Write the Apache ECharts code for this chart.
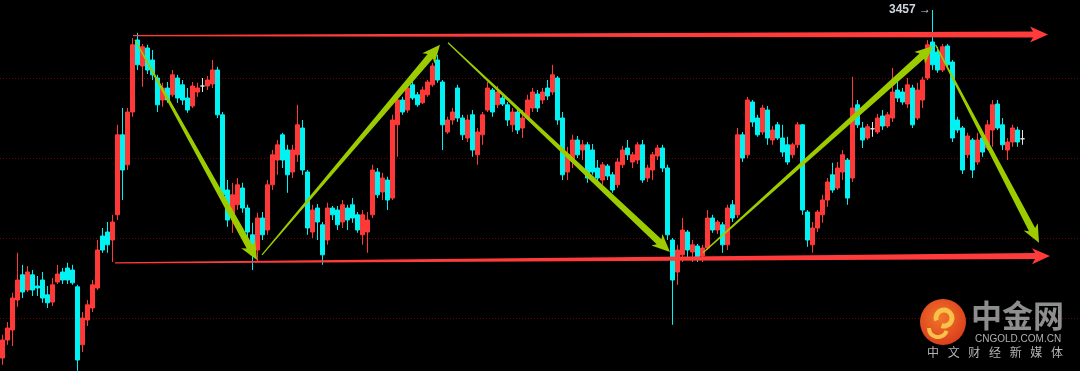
<!DOCTYPE html>
<html><head><meta charset="utf-8">
<script src="https://cdn.jsdelivr.net/npm/echarts@6/dist/echarts.min.js"></script>
<style>html,body{margin:0;padding:0;background:#000;}#c{width:1080px;height:371px;}</style>
</head><body><div id="c"></div>
<script>
// ---- candle data (price) ----
const opens = [
3370.0,3374.5,3377.0,3384.5,3390.8,3387.0,3390.8,3388.0,3389.5,3385.8,
3384.0,3389.0,3391.5,3392.5,3392.0,3387.8,3373.3,3379.5,3382.5,3387.5,
3400.5,3401.5,3399.5,3405.8,3425.8,3418.3,3431.5,3449.5,3443.0,3447.5,
3444.5,3440.0,3434.5,3437.5,3435.8,3440.0,3438.3,3435.0,3433.0,3436.5,
3438.0,3438.0,3438.5,3442.0,3430.8,3412.0,3405.8,3408.3,3412.5,3407.5,
3400.8,3397.0,3405.0,3402.0,3413.3,3419.5,3425.8,3422.0,3416.5,3420.8,
3427.5,3416.5,3401.5,3407.5,3403.3,3399.5,3407.5,3407.0,3404.0,3407.5,
3408.3,3405.8,3400.8,3401.5,3405.8,3416.5,3411.5,3414.5,3410.0,3428.3,
3434.5,3432.0,3438.3,3435.8,3433.8,3435.8,3438.3,3444.5,3439.0,3426.5,
3429.5,3437.5,3430.0,3425.0,3430.8,3420.8,3425.8,3432.0,3437.0,3433.3,
3435.0,3433.3,3428.3,3431.5,3427.5,3430.0,3432.5,3436.0,3434.5,3437.5,
3436.5,3440.0,3430.0,3416.5,3419.5,3424.5,3422.0,3423.3,3422.0,3417.5,
3414.5,3418.0,3415.8,3413.3,3418.3,3422.5,3419.0,3419.5,3423.3,3415.0,
3417.0,3420.5,3422.5,3417.5,3399.5,3391.5,3395.8,3401.5,3396.5,3398.0,
3395.5,3397.5,3405.0,3402.0,3403.3,3398.3,3408.3,3405.8,3425.8,3420.8,
3434.0,3430.0,3426.5,3432.0,3424.5,3428.3,3425.0,3423.3,3420.8,3423.3,
3428.3,3406.5,3398.3,3402.5,3405.8,3409.5,3415.8,3412.5,3416.5,3419.5,
3415.0,3433.3,3427.5,3425.0,3427.3,3426.5,3430.5,3428.0,3430.0,3437.0,
3436.5,3433.5,3437.5,3430.0,3434.5,3440.0,3449.0,3446.5,3442.0,3448.0,
3444.0,3429.5,3427.5,3420.8,3424.5,3419.0,3425.0,3422.5,3427.0,3433.5,
3428.3,3422.0,3424.0,3427.0,3424.8
];
const closes = [
3374.5,3377.5,3385.0,3389.5,3386.5,3391.5,3387.0,3387.5,3385.0,3383.8,
3388.3,3391.0,3389.5,3389.5,3388.8,3369.5,3380.0,3383.3,3388.3,3397.0,
3397.0,3398.3,3404.0,3425.8,3417.0,3431.5,3448.3,3443.3,3447.8,3442.0,
3440.8,3433.3,3437.5,3434.5,3440.8,3435.0,3434.5,3432.0,3438.0,3437.5,
3438.0,3439.5,3442.0,3430.8,3410.8,3404.5,3410.8,3413.3,3407.5,3401.5,
3395.8,3405.0,3400.8,3413.3,3420.8,3423.3,3419.5,3415.8,3422.0,3428.3,
3417.0,3402.5,3407.0,3404.0,3395.8,3407.5,3405.8,3403.3,3408.3,3404.5,
3405.0,3402.0,3405.8,3404.5,3417.0,3410.8,3415.0,3409.5,3429.5,3434.5,
3431.5,3437.5,3435.0,3433.3,3437.0,3439.0,3443.0,3439.5,3428.3,3429.5,
3431.5,3430.0,3425.8,3429.5,3422.0,3426.5,3430.8,3437.5,3431.5,3436.5,
3433.5,3429.5,3431.5,3427.0,3430.0,3434.5,3436.5,3432.5,3436.5,3435.5,
3440.8,3429.5,3415.8,3420.8,3424.5,3420.8,3423.3,3415.0,3416.5,3415.0,
3418.3,3415.5,3412.0,3419.0,3422.0,3420.8,3420.8,3423.3,3414.5,3417.5,
3420.8,3422.5,3417.5,3400.8,3389.5,3397.0,3402.0,3397.0,3398.3,3395.0,
3397.5,3405.0,3402.0,3404.0,3398.3,3407.5,3405.0,3425.8,3420.0,3434.5,
3429.0,3425.8,3432.5,3425.0,3427.0,3425.0,3421.5,3419.0,3423.3,3428.3,
3407.0,3399.5,3402.5,3406.5,3409.5,3414.0,3412.0,3417.5,3420.8,3410.0,
3432.5,3428.3,3424.5,3427.8,3427.3,3430.0,3428.0,3430.8,3436.5,3435.0,
3434.0,3438.3,3428.3,3437.0,3439.5,3448.3,3443.3,3442.0,3447.8,3443.3,
3425.0,3427.0,3417.0,3425.5,3417.0,3424.5,3421.5,3428.3,3433.3,3427.5,
3423.3,3424.0,3427.5,3424.0,3424.8
];
const lows = [
3368.3,3373.3,3373.0,3382.8,3385.0,3386.5,3385.5,3385.5,3383.8,3382.5,
3383.0,3388.5,3388.5,3388.5,3388.3,3366.8,3371.5,3378.0,3381.5,3387.0,
3396.3,3396.3,3394.0,3404.5,3409.5,3417.0,3430.3,3442.0,3437.8,3441.0,
3439.5,3431.5,3432.8,3433.8,3435.3,3433.8,3433.3,3431.3,3432.5,3435.3,
3436.5,3437.0,3437.5,3430.0,3409.5,3402.8,3401.3,3407.0,3406.3,3400.0,
3392.0,3394.0,3399.5,3400.8,3412.0,3415.8,3417.5,3411.3,3415.0,3419.0,
3415.8,3400.8,3400.0,3399.5,3393.3,3398.3,3404.5,3402.0,3402.5,3402.0,
3403.8,3401.3,3398.3,3396.3,3405.0,3410.0,3409.5,3407.0,3409.5,3420.3,
3430.8,3431.3,3434.5,3432.8,3433.5,3435.3,3437.8,3438.8,3422.0,3426.0,
3428.3,3429.0,3424.5,3424.0,3420.3,3418.3,3423.3,3431.5,3430.3,3432.5,
3433.0,3428.0,3426.5,3426.0,3425.0,3429.5,3431.5,3431.5,3433.5,3434.5,
3435.8,3428.3,3414.5,3414.5,3417.5,3420.0,3419.5,3413.8,3415.8,3414.0,
3413.3,3414.5,3411.3,3412.5,3417.5,3419.5,3417.5,3418.5,3413.8,3414.0,
3414.5,3419.5,3416.5,3399.5,3378.3,3388.3,3394.0,3395.0,3394.0,3394.0,
3394.0,3397.0,3401.3,3401.0,3396.3,3397.0,3404.0,3405.0,3419.0,3420.0,
3427.8,3425.3,3425.8,3423.3,3423.3,3424.5,3420.3,3418.3,3420.0,3422.5,
3405.8,3397.8,3396.3,3401.5,3403.8,3407.8,3411.3,3412.0,3414.5,3408.3,
3414.0,3427.5,3422.5,3424.5,3425.3,3426.0,3427.0,3427.5,3429.0,3434.0,
3433.3,3432.5,3427.5,3429.5,3432.5,3439.5,3442.0,3441.3,3441.5,3442.5,
3424.0,3426.3,3416.0,3420.0,3415.0,3418.3,3420.3,3422.0,3422.8,3427.0,
3422.0,3419.5,3422.8,3422.8,3423.3
];
const highs = [
3375.8,3379.0,3386.3,3396.3,3393.3,3393.0,3392.0,3390.5,3391.5,3388.0,
3390.0,3393.3,3392.5,3393.8,3393.3,3388.3,3381.5,3384.5,3389.5,3399.5,
3402.5,3404.0,3405.8,3428.3,3432.5,3432.5,3450.0,3451.3,3448.5,3448.3,
3447.0,3440.8,3438.8,3439.0,3442.0,3440.8,3439.5,3437.5,3439.0,3438.8,
3440.0,3440.5,3444.5,3442.8,3431.5,3414.5,3413.8,3415.0,3413.8,3408.3,
3403.8,3406.3,3406.5,3414.5,3422.0,3424.5,3426.3,3423.3,3423.3,3433.3,
3429.5,3417.0,3408.3,3408.5,3404.0,3408.8,3408.0,3408.0,3409.5,3408.3,
3410.0,3406.5,3407.0,3406.5,3418.3,3417.5,3416.3,3415.3,3430.8,3435.3,
3435.3,3438.8,3439.5,3436.5,3437.8,3439.5,3443.8,3445.8,3439.5,3430.3,
3432.5,3438.3,3430.8,3430.8,3432.0,3427.5,3431.5,3439.0,3437.5,3438.0,
3435.5,3434.0,3432.5,3432.0,3432.0,3435.8,3437.5,3437.0,3437.5,3439.5,
3443.3,3440.5,3431.5,3422.8,3425.8,3425.5,3424.5,3424.0,3423.5,3419.5,
3419.0,3418.5,3416.5,3420.0,3423.0,3424.5,3421.5,3424.0,3424.5,3418.3,
3421.5,3423.3,3423.3,3418.3,3400.0,3398.3,3405.0,3402.0,3399.5,3398.5,
3398.3,3407.0,3405.8,3404.5,3404.0,3408.3,3409.5,3427.5,3426.5,3435.3,
3434.5,3430.8,3433.3,3433.0,3428.0,3429.0,3428.3,3425.3,3423.8,3429.0,
3428.5,3407.0,3404.0,3407.0,3410.8,3415.0,3418.8,3419.0,3422.0,3420.0,
3440.3,3434.5,3429.0,3428.5,3429.0,3431.0,3432.0,3431.5,3442.5,3439.0,
3437.5,3440.0,3438.3,3438.8,3440.3,3449.5,3457.0,3447.8,3448.5,3448.5,
3444.5,3430.3,3428.0,3426.3,3425.0,3426.3,3426.3,3429.5,3434.5,3434.5,
3430.0,3425.0,3428.3,3427.8,3427.0
];
// category slots (candles fill the first 205; the rest is right-hand space)
const categories = Array.from({ length: 216 }, (_, i) => 'K' + (i + 1));

// ---- annotations, in data coordinates [startIndex, startPrice, endIndex, endPrice] ----
const rangeLines = [
  [26.1, 3450.6, 209.1, 3450.9],
  [22.5, 3393.8, 209.5, 3395.5]
];
const trendArrows = [
  [26.5, 3449.5, 50.9, 3394.5],
  [51.9, 3395.8, 87.5, 3448.3],
  [89.1, 3448.8, 133.5, 3396.5],
  [140.1, 3396.3, 186.1, 3448.0],
  [186.6, 3448.3, 207.3, 3398.8]
];
// visible price window
const priceMin = 3366.75;
const priceMax = 3459.5;

const candleData = opens.map((o, i) => [o, closes[i], lows[i], highs[i]]);

function arrowRenderer(w1, w2, headLen, headHalf, color) {
  return function (params, api) {
    const a = api.coord([api.value(0), api.value(1)]);
    const b = api.coord([api.value(2), api.value(3)]);
    const dx = b[0] - a[0], dy = b[1] - a[1];
    const len = Math.hypot(dx, dy);
    const ux = dx / len, uy = dy / len;
    const nx = -uy, ny = ux;
    const bx = b[0] - ux * headLen, by = b[1] - uy * headLen;
    const wx = bx - ux * 3, wy = by - uy * 3;
    const pts = [
      [a[0] + nx * w1 / 2, a[1] + ny * w1 / 2],
      [bx + nx * w2 / 2, by + ny * w2 / 2],
      [wx + nx * headHalf, wy + ny * headHalf],
      [b[0], b[1]],
      [wx - nx * headHalf, wy - ny * headHalf],
      [bx - nx * w2 / 2, by - ny * w2 / 2],
      [a[0] - nx * w1 / 2, a[1] - ny * w1 / 2]
    ];
    return { type: 'polygon', shape: { points: pts }, style: { fill: color } };
  };
}

const chart = echarts.init(document.getElementById('c'), null, { renderer: 'canvas' });
chart.setOption({
  backgroundColor: '#000000',
  animation: false,
  grid: { left: 0, right: 0, top: 0, bottom: 0 },
  xAxis: [
    { type: 'category', data: categories, boundaryGap: true,
      axisLine: { show: false }, axisTick: { show: false }, axisLabel: { show: false }, splitLine: { show: false } },
    { type: 'value', min: -0.5, max: 215.5, show: false, splitLine: { show: false } }
  ],
  yAxis: {
    type: 'value', min: priceMin, max: priceMax, splitNumber: 5,
    axisLine: { show: false }, axisTick: { show: false }, axisLabel: { show: false },
    splitLine: { show: true, showMinLine: false, showMaxLine: false,
      lineStyle: { color: '#5e0a0a', type: [1, 2], width: 1 } }
  },
  series: [
    {
      type: 'candlestick', xAxisIndex: 0, data: candleData, barWidth: 4,
      itemStyle: {
        color: '#ff3838', color0: '#00f2f2',
        borderColor: '#ff3838', borderColor0: '#00f2f2',
        borderColorDoji: '#e6e6e6', borderWidth: 1
      },
      markPoint: {
        symbol: 'circle', symbolSize: 1, itemStyle: { color: 'rgba(0,0,0,0)' },
        label: {
          show: true, position: 'left', distance: 1, color: '#cfd6de',
          fontSize: 12, fontWeight: 'bold', fontFamily: 'Liberation Sans, DejaVu Sans, sans-serif',
          formatter: p => Math.round(p.value) + ' →'
        },
        data: [{ type: 'max', valueDim: 'highest' }]
      },
      z: 2
    },
    {
      type: 'custom', xAxisIndex: 1, yAxisIndex: 0, clip: false, silent: true,
      renderItem: arrowRenderer(1.2, 6, 15, 8, '#ff3b3b'),
      encode: { x: [0, 2], y: [1, 3] },
      data: rangeLines, z: 3
    },
    {
      type: 'custom', xAxisIndex: 1, yAxisIndex: 0, clip: false, silent: true,
      renderItem: arrowRenderer(1.2, 7, 15, 8, '#9ccc00'),
      encode: { x: [0, 2], y: [1, 3] },
      data: trendArrows, z: 4
    }
  ],
  graphic: [
    { type: 'circle', shape: { cx: 943, cy: 322, r: 23 }, z: 10,
      style: { fill: new echarts.graphic.RadialGradient(0.45, 0.4, 0.7, [
        { offset: 0, color: '#f0762a' }, { offset: 1, color: '#d8361a' }]) } },
    { type: 'arc', shape: { cx: 944, cy: 318, r: 8, startAngle: Math.PI * 0.9, endAngle: Math.PI * 2.6 }, z: 11,
      style: { stroke: '#f7c24a', lineWidth: 5, fill: null } },
    { type: 'arc', shape: { cx: 938, cy: 328, r: 9, startAngle: Math.PI * 0.1, endAngle: Math.PI * 1.0 }, z: 11,
      style: { stroke: '#f7c24a', lineWidth: 4, fill: null } },
    { type: 'text', left: 971, top: 300, z: 10,
      style: { text: '中金网', fill: '#8e8e8e', font: 'bold 31px "Noto Sans CJK SC"' } },
    { type: 'text', left: 975, top: 334, z: 10,
      style: { text: 'CNGOLD.COM.CN', fill: '#b0b0b0', font: '10px "Liberation Sans"' } },
    { type: 'text', left: 927, top: 346, z: 10, style: { text: '中', fill: '#b4b4b4', font: '12px "Noto Sans CJK SC"' } },
    { type: 'text', left: 947.7, top: 346, z: 10, style: { text: '文', fill: '#b4b4b4', font: '12px "Noto Sans CJK SC"' } },
    { type: 'text', left: 968.3, top: 346, z: 10, style: { text: '财', fill: '#b4b4b4', font: '12px "Noto Sans CJK SC"' } },
    { type: 'text', left: 989, top: 346, z: 10, style: { text: '经', fill: '#b4b4b4', font: '12px "Noto Sans CJK SC"' } },
    { type: 'text', left: 1009.7, top: 346, z: 10, style: { text: '新', fill: '#b4b4b4', font: '12px "Noto Sans CJK SC"' } },
    { type: 'text', left: 1030.3, top: 346, z: 10, style: { text: '媒', fill: '#b4b4b4', font: '12px "Noto Sans CJK SC"' } },
    { type: 'text', left: 1051, top: 346, z: 10, style: { text: '体', fill: '#b4b4b4', font: '12px "Noto Sans CJK SC"' } }
  ]
});
</script>
</body></html>
